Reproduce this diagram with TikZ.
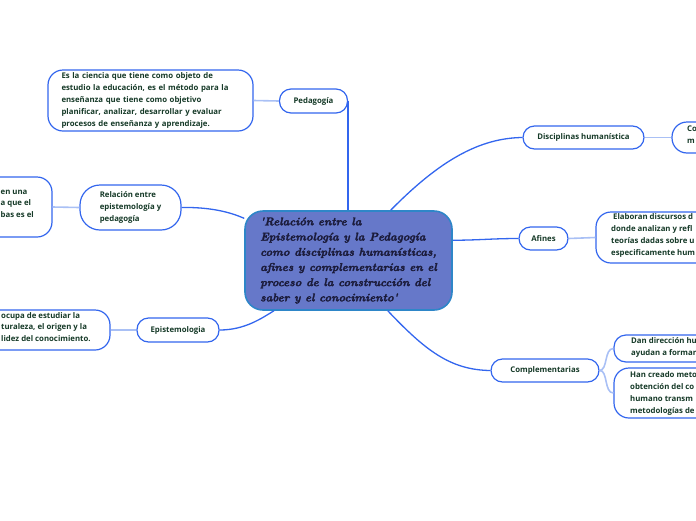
\documentclass[tikz,border=0pt]{standalone}
\usepackage{fontspec}
\newfontfamily\osans{Open Sans}
\newfontfamily\cfont{Latin Modern Roman}[BoldItalicFeatures={FakeBold=2.2}]
\definecolor{bc}{HTML}{3366EE}
\definecolor{lc}{HTML}{A9C0F5}
\definecolor{tc}{HTML}{163A28}
\definecolor{cfill}{HTML}{6678C9}
\definecolor{cbord}{HTML}{2E86C8}
\definecolor{ctext}{HTML}{1B1B3A}
\tikzset{
  topic/.style={draw=bc, line width=1.2pt, rounded corners=11.5pt, fill=white, text=tc,
    font=\osans\bfseries\fontsize{7.8}{11.8}\selectfont, inner sep=0pt, align=left},
  leafbox/.style={draw=bc, line width=1.2pt, rounded corners=15pt, fill=white, text=tc,
    font=\osans\bfseries\fontsize{7.8}{11.8}\selectfont, inner sep=0pt, align=left},
  leaftext/.style={text=tc, font=\osans\bfseries\fontsize{7.8}{11.8}\selectfont, inner sep=0pt, align=left, anchor=north west},
  mainline/.style={draw=bc, line width=1.3pt},
  leafline/.style={draw=lc, line width=1.6pt},
}
\begin{document}
\begin{tikzpicture}[x=1pt,y=-1pt]
\useasboundingbox (0,0) rectangle (696,520);

% central
\node[draw=cbord, line width=1.6pt, fill=cfill, rounded corners=18pt, minimum width=207pt, minimum height=99pt,
  text=ctext, align=left, inner sep=0pt,
  font=\cfont\bfseries\itshape\fontsize{11.3}{15.2}\selectfont] (central) at (348.5,260.5)
  {'Relación entre la\\Epistemología y la Pedagogía\\como disciplinas humanísticas,\\afines y complementarias en el\\proceso de la construcción del\\saber y el conocimiento'};

% topics
\node[topic, minimum width=68pt, minimum height=24pt] (ped) at (313.5,101) {Pedagogía};
\node[topic, rounded corners=20pt, minimum width=101pt, minimum height=45pt] (rel) at (130.5,207.5) {Relación entre\\epistemología y\\pedagogía};
\node[topic, minimum width=82pt, minimum height=24pt] (epi) at (178,330) {Epistemologia};
\node[topic, minimum width=121pt, minimum height=23pt] (disc) at (583.5,137.5) {Disciplinas humanística};
\node[topic, minimum width=49pt, minimum height=23pt] (afi) at (543.5,238.5) {Afines};
\node[topic, minimum width=108pt, minimum height=23pt] (comp) at (545,370.5) {Complementarias};

% leaves
\node[leafbox, minimum width=205pt, minimum height=61pt, text width=178pt] (pedleaf) at (150.5,100.5)
  {Es la ciencia que tiene como objeto de\\estudio la educación, es el método para la\\enseñanza que tiene como objetivo\\planificar, analizar, desarrollar y evaluar\\procesos de enseñanza y aprendizaje.};

\node[leafbox, minimum width=90pt, minimum height=60pt] (relleaf) at (7,207) {};
\node[leaftext] (relleaft) at (0.5,189.5) {en una\\a que el\\bas es el};

\node[leafbox, minimum width=140pt, minimum height=40pt] (epileaf) at (40,330) {};
\node[leaftext] (epileaft) at (1,312) {ocupa de estudiar la\\turaleza, el origen y la\\lidez del conocimiento.};

\node[leafbox, minimum width=70pt, minimum height=31pt] (discleaf) at (707,137.5) {};
\node[leaftext] (discleaft) at (687,126) {Co\\m};

\node[leafbox, minimum width=170pt, minimum height=51pt] (afleaf) at (681,237.5) {};
\node[leaftext] (afleaft) at (611,213.5) {\ Elaboran discursos d\\donde analizan y refl\\teorías dadas sobre u\\especificamente hum};

\node[leafbox, rounded corners=12pt, minimum width=110pt, minimum height=27pt] (cl1) at (669,348.5) {};
\node[leaftext] (cl1t) at (631,337.5) {Dan dirección hu\\ayudan a formar};

\node[leafbox, minimum width=110pt, minimum height=50pt] (cl2) at (669,393) {};
\node[leaftext] (cl2t) at (630,371.5) {Han creado meto\\obtención del co\\humano transm\\metodologías de};

% main connectors
\draw[mainline] (ped.east) -- (ped.east |- central.north);
\draw[mainline] (central.50) .. controls (440,160) and (480,138) .. (disc.west);
\draw[mainline] (central.11) to[out=0,in=180] (afi.west);
\draw[mainline] (central.-52) .. controls (425,350) and (450,370) .. (comp.west);
\draw[mainline] (rel.east) .. controls (210,207) and (230,212) .. (central.158);
\draw[mainline] (epi.east) .. controls (245,330) and (262,318) .. (central.-146);

% leaf connectors
\draw[leafline] (pedleaf.east) -- (ped.west);
\draw[leafline] (rel.west) -- (relleaf.east);
\draw[leafline] (epi.west) -- (epileaf.east);
\draw[leafline] (disc.east) -- (discleaf.west);
\draw[leafline] (afi.east) -- (afleaf.west);
\draw[leafline] (comp.east) .. controls (608,370) and (604,348.5) .. (cl1.west);
\draw[leafline] (comp.east) .. controls (608,370) and (604,393) .. (cl2.west);
\end{tikzpicture}
\end{document}
